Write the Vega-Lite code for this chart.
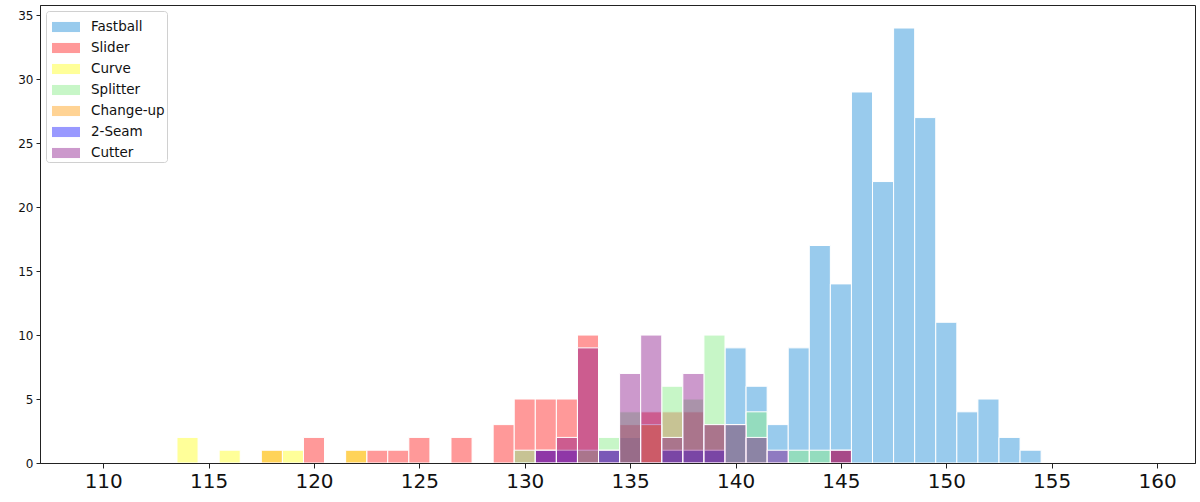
{
  "$schema": "https://vega.github.io/schema/vega-lite/v6.json",
  "width": 1155,
  "height": 458,
  "autosize": {"type": "none"},
  "padding": {"left": 40, "top": 5, "right": 5, "bottom": 39},
  "background": "white",
  "config": {
    "font": "DejaVu Sans",
    "view": {"stroke": "#222", "strokeWidth": 1}
  },
  "data": {
    "values": [
      {"pitch": "Fastball", "lo": 134.5, "hi": 135.5, "n": 2},
      {"pitch": "Fastball", "lo": 139.5, "hi": 140.5, "n": 9},
      {"pitch": "Fastball", "lo": 140.5, "hi": 141.5, "n": 6},
      {"pitch": "Fastball", "lo": 141.5, "hi": 142.5, "n": 3},
      {"pitch": "Fastball", "lo": 142.5, "hi": 143.5, "n": 9},
      {"pitch": "Fastball", "lo": 143.5, "hi": 144.5, "n": 17},
      {"pitch": "Fastball", "lo": 144.5, "hi": 145.5, "n": 14},
      {"pitch": "Fastball", "lo": 145.5, "hi": 146.5, "n": 29},
      {"pitch": "Fastball", "lo": 146.5, "hi": 147.5, "n": 22},
      {"pitch": "Fastball", "lo": 147.5, "hi": 148.5, "n": 34},
      {"pitch": "Fastball", "lo": 148.5, "hi": 149.5, "n": 27},
      {"pitch": "Fastball", "lo": 149.5, "hi": 150.5, "n": 11},
      {"pitch": "Fastball", "lo": 150.5, "hi": 151.5, "n": 4},
      {"pitch": "Fastball", "lo": 151.5, "hi": 152.5, "n": 5},
      {"pitch": "Fastball", "lo": 152.5, "hi": 153.5, "n": 2},
      {"pitch": "Fastball", "lo": 153.5, "hi": 154.5, "n": 1},
      {"pitch": "Slider", "lo": 119.5, "hi": 120.5, "n": 2},
      {"pitch": "Slider", "lo": 122.5, "hi": 123.5, "n": 1},
      {"pitch": "Slider", "lo": 123.5, "hi": 124.5, "n": 1},
      {"pitch": "Slider", "lo": 124.5, "hi": 125.5, "n": 2},
      {"pitch": "Slider", "lo": 126.5, "hi": 127.5, "n": 2},
      {"pitch": "Slider", "lo": 128.5, "hi": 129.5, "n": 3},
      {"pitch": "Slider", "lo": 129.5, "hi": 130.5, "n": 5},
      {"pitch": "Slider", "lo": 130.5, "hi": 131.5, "n": 5},
      {"pitch": "Slider", "lo": 131.5, "hi": 132.5, "n": 5},
      {"pitch": "Slider", "lo": 132.5, "hi": 133.5, "n": 10},
      {"pitch": "Slider", "lo": 134.5, "hi": 135.5, "n": 3},
      {"pitch": "Slider", "lo": 135.5, "hi": 136.5, "n": 4},
      {"pitch": "Slider", "lo": 136.5, "hi": 137.5, "n": 4},
      {"pitch": "Slider", "lo": 137.5, "hi": 138.5, "n": 4},
      {"pitch": "Slider", "lo": 138.5, "hi": 139.5, "n": 3},
      {"pitch": "Slider", "lo": 144.5, "hi": 145.5, "n": 1},
      {"pitch": "Curve", "lo": 113.5, "hi": 114.5, "n": 2},
      {"pitch": "Curve", "lo": 115.5, "hi": 116.5, "n": 1},
      {"pitch": "Curve", "lo": 117.5, "hi": 118.5, "n": 1},
      {"pitch": "Curve", "lo": 118.5, "hi": 119.5, "n": 1},
      {"pitch": "Curve", "lo": 121.5, "hi": 122.5, "n": 1},
      {"pitch": "Splitter", "lo": 129.5, "hi": 130.5, "n": 1},
      {"pitch": "Splitter", "lo": 132.5, "hi": 133.5, "n": 1},
      {"pitch": "Splitter", "lo": 133.5, "hi": 134.5, "n": 2},
      {"pitch": "Splitter", "lo": 134.5, "hi": 135.5, "n": 4},
      {"pitch": "Splitter", "lo": 136.5, "hi": 137.5, "n": 6},
      {"pitch": "Splitter", "lo": 137.5, "hi": 138.5, "n": 5},
      {"pitch": "Splitter", "lo": 138.5, "hi": 139.5, "n": 10},
      {"pitch": "Splitter", "lo": 139.5, "hi": 140.5, "n": 3},
      {"pitch": "Splitter", "lo": 140.5, "hi": 141.5, "n": 4},
      {"pitch": "Splitter", "lo": 142.5, "hi": 143.5, "n": 1},
      {"pitch": "Splitter", "lo": 143.5, "hi": 144.5, "n": 1},
      {"pitch": "Change-up", "lo": 117.5, "hi": 118.5, "n": 1},
      {"pitch": "Change-up", "lo": 121.5, "hi": 122.5, "n": 1},
      {"pitch": "Change-up", "lo": 135.5, "hi": 136.5, "n": 3},
      {"pitch": "2-Seam", "lo": 130.5, "hi": 131.5, "n": 1},
      {"pitch": "2-Seam", "lo": 131.5, "hi": 132.5, "n": 1},
      {"pitch": "2-Seam", "lo": 133.5, "hi": 134.5, "n": 1},
      {"pitch": "2-Seam", "lo": 136.5, "hi": 137.5, "n": 1},
      {"pitch": "2-Seam", "lo": 137.5, "hi": 138.5, "n": 1},
      {"pitch": "2-Seam", "lo": 138.5, "hi": 139.5, "n": 1},
      {"pitch": "Cutter", "lo": 130.5, "hi": 131.5, "n": 1},
      {"pitch": "Cutter", "lo": 131.5, "hi": 132.5, "n": 2},
      {"pitch": "Cutter", "lo": 132.5, "hi": 133.5, "n": 9},
      {"pitch": "Cutter", "lo": 133.5, "hi": 134.5, "n": 1},
      {"pitch": "Cutter", "lo": 134.5, "hi": 135.5, "n": 7},
      {"pitch": "Cutter", "lo": 135.5, "hi": 136.5, "n": 10},
      {"pitch": "Cutter", "lo": 136.5, "hi": 137.5, "n": 2},
      {"pitch": "Cutter", "lo": 137.5, "hi": 138.5, "n": 7},
      {"pitch": "Cutter", "lo": 138.5, "hi": 139.5, "n": 3},
      {"pitch": "Cutter", "lo": 139.5, "hi": 140.5, "n": 3},
      {"pitch": "Cutter", "lo": 140.5, "hi": 141.5, "n": 2},
      {"pitch": "Cutter", "lo": 141.5, "hi": 142.5, "n": 1},
      {"pitch": "Cutter", "lo": 144.5, "hi": 145.5, "n": 1}
    ]
  },
  "mark": {"type": "bar", "stroke": "white", "strokeWidth": 1, "clip": true},
  "encoding": {
    "x": {
      "field": "lo",
      "type": "quantitative",
      "scale": {"domain": [107, 161.8], "nice": false, "zero": false},
      "axis": {
        "title": null,
        "grid": false,
        "values": [110, 115, 120, 125, 130, 135, 140, 145, 150, 155, 160],
        "labelFontSize": 20,
        "labelColor": "#111",
        "labelPadding": 3,
        "tickSize": 5,
        "tickColor": "#222",
        "domainColor": "#222"
      }
    },
    "x2": {"field": "hi"},
    "y": {
      "field": "n",
      "type": "quantitative",
      "stack": null,
      "scale": {"domain": [0, 35.8], "nice": false},
      "axis": {
        "title": null,
        "grid": false,
        "values": [0, 5, 10, 15, 20, 25, 30, 35],
        "labelFontSize": 12,
        "labelColor": "#111",
        "labelPadding": 3,
        "tickSize": 4,
        "tickColor": "#222",
        "domainColor": "#222"
      }
    },
    "y2": {"datum": 0},
    "color": {
      "field": "pitch",
      "type": "nominal",
      "scale": {
        "domain": ["Fastball", "Slider", "Curve", "Splitter", "Change-up", "2-Seam", "Cutter"],
        "range": [
          "rgba(52,152,219,0.5)",
          "rgba(255,0,0,0.4)",
          "rgba(255,255,0,0.4)",
          "rgba(144,238,144,0.5)",
          "rgba(255,150,0,0.42)",
          "rgba(0,0,255,0.4)",
          "rgba(128,0,128,0.4)"
        ]
      },
      "legend": {
        "title": null,
        "orient": "top-left",
        "offset": 6,
        "padding": 2,
        "fillColor": "white",
        "strokeColor": "#d0d0d0",
        "cornerRadius": 3,
        "symbolType": "M-1,-0.36H1V0.36H-1Z",
        "symbolSize": 784,
        "symbolOffset": 4,
        "symbolStrokeWidth": 0,
        "symbolOpacity": 1,
        "labelFontSize": 13.5,
        "labelColor": "#111",
        "labelOffset": 11,
        "rowPadding": -0.5
      }
    }
  }
}
